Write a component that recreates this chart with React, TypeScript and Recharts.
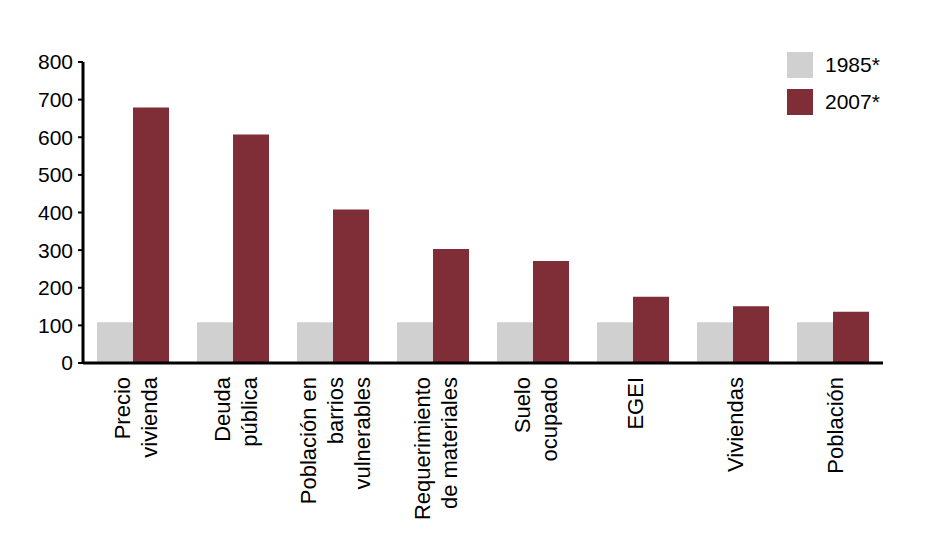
import React from "react";
import { BarChart, Bar, XAxis, YAxis, Legend } from "recharts";

const categories = [
  "Precio vivienda",
  "Deuda pública",
  "Población en barrios vulnerables",
  "Requerimiento de materiales",
  "Suelo ocupado",
  "EGEI",
  "Viviendas",
  "Población",
];

const tickLabelLines: string[][] = [
  ["Precio", "vivienda"],
  ["Deuda", "pública"],
  ["Población en", "barrios", "vulnerables"],
  ["Requerimiento", "de materiales"],
  ["Suelo", "ocupado"],
  ["EGEI"],
  ["Viviendas"],
  ["Población"],
];

const values1985 = [108, 108, 108, 108, 108, 108, 108, 108];
const values2007 = [679, 607, 408, 303, 271, 176, 151, 136];

const yTicks = [0, 100, 200, 300, 400, 500, 600, 700, 800];

const seriesNames = ["1985*", "2007*"];
const colors = ["#d0d0d0", "#7f2d36"];

const data = categories.map((c, i) => ({
  name: c,
  v1985: values1985[i],
  v2007: values2007[i],
}));

const FONT = '"Liberation Sans", Arial, sans-serif';

const CategoryTick = (props: any) => {
  const { x, y, payload } = props;
  const lines = tickLabelLines[payload.index] || [String(payload.value)];
  const n = lines.length;
  const ty = y + 14;
  return (
    <g>
      {lines.map((ln, i) => {
        const lx = x + (i - (n - 1) / 2) * 27 + 10;
        return (
          <text
            key={i}
            x={lx}
            y={ty}
            transform={`rotate(-90, ${lx}, ${ty})`}
            textAnchor="end"
            fontSize={22}
            fontFamily={FONT}
            fill="#000"
          >
            {ln}
          </text>
        );
      })}
    </g>
  );
};

const LegendContent = () => (
  <div style={{ fontFamily: FONT }}>
    {seriesNames.map((s, i) => (
      <div key={s} style={{ display: "flex", alignItems: "center", height: 37 }}>
        <span
          style={{
            display: "inline-block",
            width: 26,
            height: 26,
            background: colors[i],
            marginRight: 12,
          }}
        />
        <span style={{ fontSize: 21, color: "#000", lineHeight: "26px" }}>{s}</span>
      </div>
    ))}
  </div>
);

export default function App() {
  return (
    <div style={{ position: "absolute", left: 0, top: 0, background: "#fff" }}>
      <BarChart
        width={940}
        height={552}
        data={data}
        margin={{ top: 62, right: 57, bottom: 9, left: 0 }}
        barCategoryGap="14%"
        barGap={0}
      >
        <XAxis
          dataKey="name"
          interval={0}
          height={180}
          tickLine={false}
          tickSize={0}
          tickMargin={0}
          axisLine={{ stroke: "#000", strokeWidth: 3 }}
          tick={<CategoryTick />}
        />
        <YAxis
          width={83}
          domain={[0, 800]}
          ticks={yTicks}
          interval={0}
          tickSize={5}
          tickMargin={5}
          axisLine={{ stroke: "#000", strokeWidth: 3 }}
          tickLine={{ stroke: "#000", strokeWidth: 2 }}
          tick={{ fill: "#000", fontSize: 21, fontFamily: FONT }}
        />
        <Legend
          layout="vertical"
          align="center"
          verticalAlign="middle"
          wrapperStyle={{ left: 787, top: 46, width: 130, height: 80 }}
          content={<LegendContent />}
        />
        <Bar dataKey="v1985" name={seriesNames[0]} fill={colors[0]} isAnimationActive={false} />
        <Bar dataKey="v2007" name={seriesNames[1]} fill={colors[1]} isAnimationActive={false} />
      </BarChart>
    </div>
  );
}
